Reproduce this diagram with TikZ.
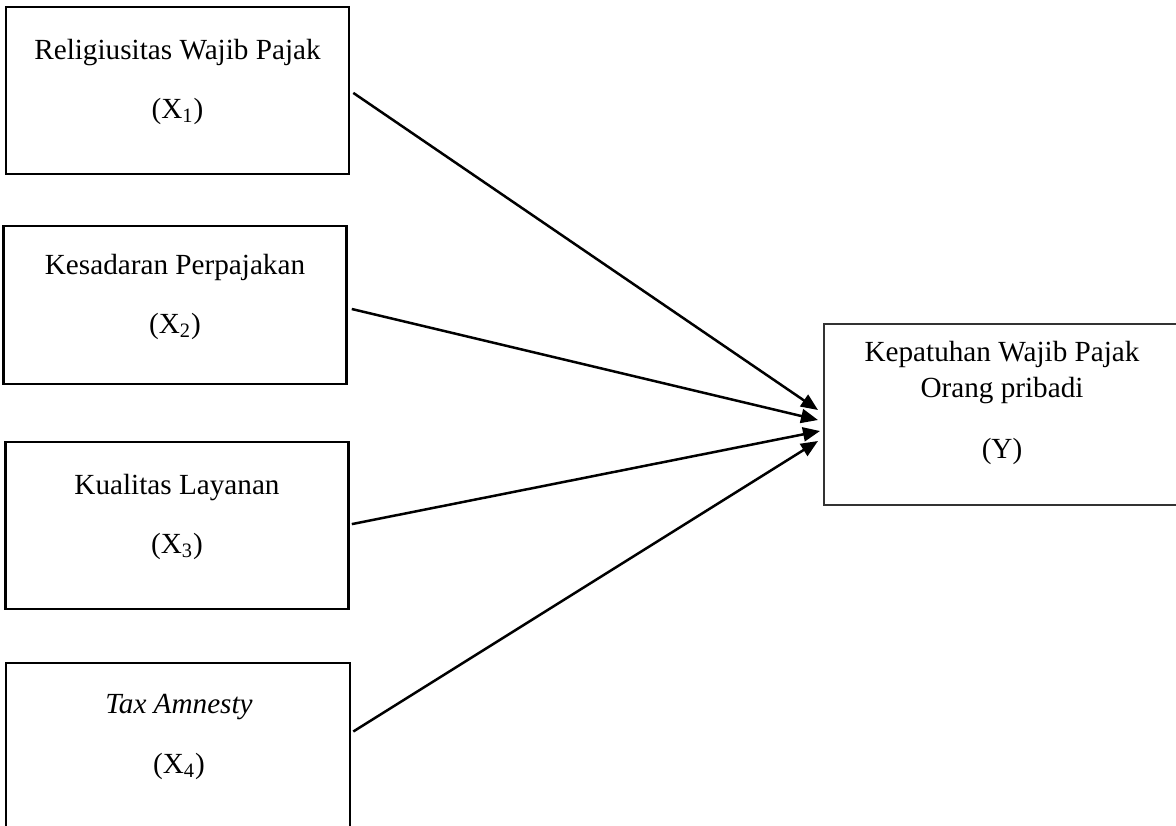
\documentclass[tikz,border=0pt]{standalone}
\usepackage{fontspec}
\setmainfont{Liberation Serif}
\usetikzlibrary{arrows.meta}
\tikzset{
  varbox/.style={draw, line width=1.3pt, inner sep=0pt, minimum width=171.5pt, minimum height=83.5pt},
  depbox/.style={draw=black!80, line width=1pt, inner sep=0pt, minimum width=178pt, minimum height=90.5pt},
  lbl/.style={anchor=base, inner sep=0pt, font=\fontsize{14.6}{17.5}\selectfont},
  path/.style={line width=1.25pt, -{Triangle[length=8.5pt,width=7pt]}}
}
\begin{document}
\begin{tikzpicture}[x=0.5pt, y=-0.5pt]
    \useasboundingbox (0,0) rectangle (1176,825);
    		% Draw boxes
			\node[varbox] (x1) at (177.5,90.5) {};
			\node[varbox, minimum height=79pt] (x2) at (175,305) {};
			\node[varbox] (x3) at (177,525.5) {};
			\node[varbox, minimum width=172pt] (x4) at (178,746.5) {};
			\node[depbox] (y) at (1002,414.5) {};
			% Labels
			\node[lbl] (x1name) at (177.5,59) {Religiusitas Wajib Pajak};
			\node[lbl] (x1sym) at (177.5,118) {(X\textsubscript{1})};
			\node[lbl] (x2name) at (175,274) {Kesadaran Perpajakan};
			\node[lbl] (x2sym) at (175,333) {(X\textsubscript{2})};
			\node[lbl] (x3name) at (177,494) {Kualitas Layanan};
			\node[lbl] (x3sym) at (177,553) {(X\textsubscript{3})};
			\node[lbl] (x4name) at (179,713) {\textit{Tax Amnesty}};
			\node[lbl] (x4sym) at (179,773) {(X\textsubscript{4})};
			\node[lbl] (yname1) at (1002,361) {Kepatuhan Wajib Pajak};
			\node[lbl] (yname2) at (1002,397) {Orang pribadi};
			\node[lbl] (ysym) at (1002,458) {(Y)};
			% Arrow ends
			\coordinate (from1) at ([xshift=1.5pt,yshift=-1.2pt]x1.east);
			\coordinate (from2) at ([xshift=2pt,yshift=-2pt]x2.east);
			\coordinate (from3) at ([xshift=1pt,yshift=0.7pt]x3.east);
			\coordinate (from4) at ([xshift=1pt,yshift=7.5pt]x4.east);
			\coordinate (to1) at ([xshift=-2.5pt,yshift=2.25pt]y.west);
			\coordinate (to2) at ([xshift=-2.5pt,yshift=-2.75pt]y.west);
			\coordinate (to3) at ([xshift=-1.5pt,yshift=-8.25pt]y.west);
			\coordinate (to4) at ([xshift=-2.5pt,yshift=-13.25pt]y.west);
			\draw[path] (from1) -- (to1);
			\draw[path] (from2) -- (to2);
			\draw[path] (from3) -- (to3);
			\draw[path] (from4) -- (to4);
\end{tikzpicture}
\end{document}
